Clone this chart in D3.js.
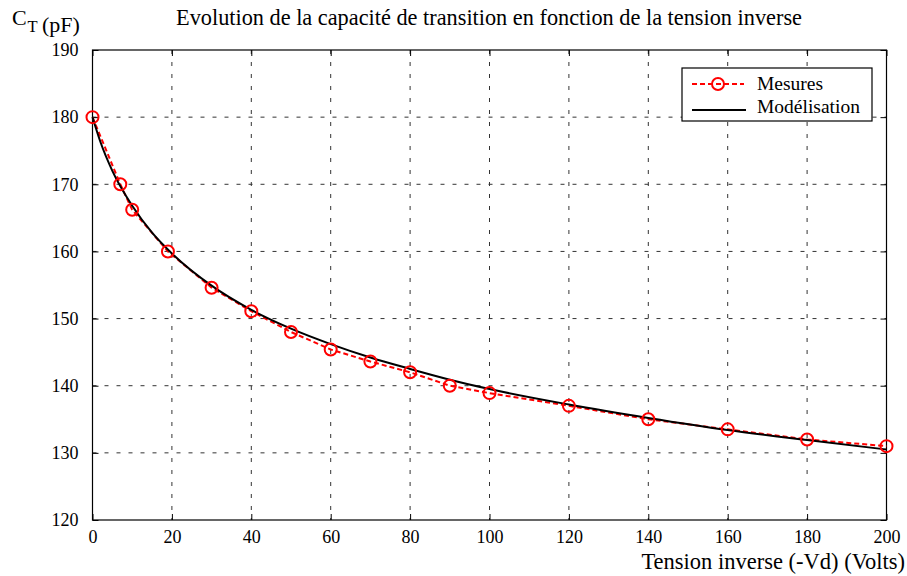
<!DOCTYPE html>
<html><head><meta charset="utf-8">
<script src="https://cdn.jsdelivr.net/npm/d3@7"></script>
<style>body{margin:0;background:#fff}svg{display:block}text{font-family:'Liberation Serif','Times New Roman',serif;fill:#000}</style>
</head><body><svg id="c" width="907" height="576"></svg>
<script>
const measV = [0, 7, 10, 19, 30, 40, 50, 60, 70, 80, 90, 100, 120, 140, 160, 180, 200];
const measC = [180, 170, 166.2, 160, 154.6, 151.1, 148, 145.4, 143.6, 142, 140, 138.9, 137, 135, 133.5, 132, 131];
const modelV = [0, 2, 5, 10, 15, 20, 30, 40, 50, 60, 70, 80, 90, 100, 120, 140, 160, 180, 200];
const modelC = [180, 176.3, 172, 166.8, 162.8, 159.7, 154.9, 151.3, 148.5, 146.2, 144.2, 142.5, 140.9, 139.5, 137.2, 135.2, 133.4, 131.9, 130.5];
const xTicks = [0, 20, 40, 60, 80, 100, 120, 140, 160, 180, 200];
const yTicks = [120, 130, 140, 150, 160, 170, 180, 190];
const title = "Evolution de la capacité de transition en fonction de la tension inverse";
const xLabel = "Tension inverse (-Vd) (Volts)";
const yLabelParts = ["C", "T", "(pF)"];
const legendLabels = ["Mesures", "Modélisation"];

const FONT = "'Liberation Serif','Times New Roman',serif";
const svg = d3.select("#c");
const L = 92.5, R = 886.5, T = 50, B = 520;
const x = d3.scaleLinear().domain([0, 200]).range([L, R]);
const y = d3.scaleLinear().domain([120, 190]).range([B, T]);

// grid
const g = svg.append("g");
g.selectAll(".vg").data(xTicks.slice(1, -1)).join("line")
  .attr("x1", d => x(d)).attr("x2", d => x(d)).attr("y1", T).attr("y2", B)
  .attr("stroke", "#333").attr("stroke-width", 1).attr("stroke-dasharray", "4,8");
g.selectAll(".hg").data(yTicks.slice(1, -1)).join("line")
  .attr("y1", d => y(d)).attr("y2", d => y(d)).attr("x1", L).attr("x2", R)
  .attr("stroke", "#333").attr("stroke-width", 1).attr("stroke-dasharray", "4,8");

// axes with inward ticks
const axg = svg.append("g").attr("transform", `translate(0,${B})`)
  .call(d3.axisBottom(x).tickValues(xTicks).tickSize(-6).tickPadding(10));
const ayg = svg.append("g").attr("transform", `translate(${L},0)`)
  .call(d3.axisLeft(y).tickValues(yTicks).tickSize(-6).tickPadding(14));
const axt = svg.append("g").attr("transform", `translate(0,${T})`)
  .call(d3.axisTop(x).tickValues(xTicks).tickSize(-6).tickFormat(""));
const ayr = svg.append("g").attr("transform", `translate(${R},0)`)
  .call(d3.axisRight(y).tickValues(yTicks).tickSize(-6).tickFormat(""));
[axg, ayg, axt, ayr].forEach(a => {
  a.attr("font-family", FONT).attr("font-size", 18);
  a.select(".domain").remove();
  a.selectAll("line").attr("stroke", "#000");
  a.selectAll("text").attr("fill", "#000");
});
svg.append("rect").attr("x", L).attr("y", T).attr("width", R - L).attr("height", B - T)
  .attr("fill", "none").attr("stroke", "#000").attr("stroke-width", 1.2);

// series
const line = d3.line().x(d => x(d[0])).y(d => y(d[1]));
const meas = measV.map((v, i) => [v, measC[i]]);
const model = modelV.map((v, i) => [v, modelC[i]]);
svg.append("path").datum(meas).attr("d", line).attr("fill", "none")
  .attr("stroke", "#ff0000").attr("stroke-width", 2).attr("stroke-dasharray", "5,3");
svg.append("path").datum(model).attr("d", d3.line().curve(d3.curveMonotoneX).x(d => x(d[0])).y(d => y(d[1])))
  .attr("fill", "none").attr("stroke", "#000").attr("stroke-width", 2);
svg.selectAll(".pt").data(meas).join("circle")
  .attr("cx", d => x(d[0])).attr("cy", d => y(d[1])).attr("r", 6)
  .attr("fill", "none").attr("stroke", "#ff0000").attr("stroke-width", 2);

// legend
const lg = svg.append("g").attr("font-family", FONT);
lg.append("rect").attr("x", 682).attr("y", 68).attr("width", 190).attr("height", 53)
  .attr("fill", "#fff").attr("stroke", "#000").attr("stroke-width", 1.2);
lg.append("line").attr("x1", 692).attr("x2", 744).attr("y1", 84).attr("y2", 84)
  .attr("stroke", "#ff0000").attr("stroke-width", 2).attr("stroke-dasharray", "5,3");
lg.append("circle").attr("cx", 718).attr("cy", 84).attr("r", 6).attr("fill", "none")
  .attr("stroke", "#ff0000").attr("stroke-width", 2);
lg.append("line").attr("x1", 692).attr("x2", 746).attr("y1", 110).attr("y2", 110)
  .attr("stroke", "#000").attr("stroke-width", 2);
lg.append("text").attr("x", 757).attr("y", 90).style("font-size", "19.5px").text(legendLabels[0]);
lg.append("text").attr("x", 757).attr("y", 113).style("font-size", "19.5px").text(legendLabels[1]);

// titles
svg.append("text").attr("x", 489).attr("y", 25).attr("text-anchor", "middle").style("font-size", "22.3px").text(title);
svg.append("text").attr("x", 905).attr("y", 569).attr("text-anchor", "end").style("font-size", "22.5px").text(xLabel);
svg.append("text").attr("x", 12).attr("y", 25).style("font-size", "22px").text(yLabelParts[0]);
svg.append("text").attr("x", 27.5).attr("y", 32).style("font-size", "16.5px").text(yLabelParts[1]);
svg.append("text").attr("x", 42).attr("y", 32).style("font-size", "22px").text(yLabelParts[2]);
</script></body></html>
